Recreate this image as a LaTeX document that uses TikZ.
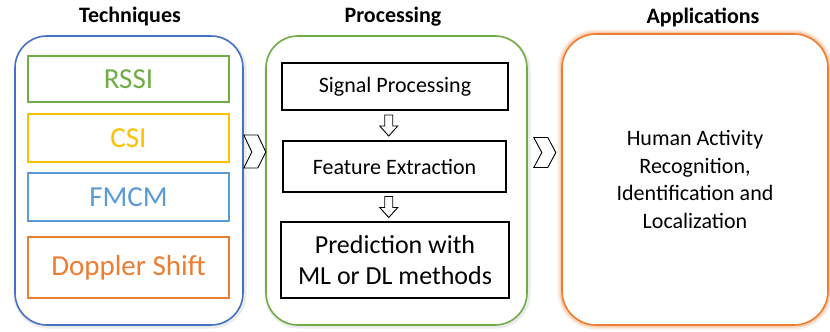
\documentclass[tikz,border=0pt]{standalone}
\usepackage{fontspec}
\setmainfont{Carlito}
\usepackage{tikz}
\usetikzlibrary{calc}
\definecolor{BlueFrame}{RGB}{68,114,196}
\definecolor{GreenFrame}{RGB}{112,173,71}
\definecolor{OrangeFrame}{RGB}{237,125,49}
\definecolor{GoldTech}{RGB}{255,192,0}
\definecolor{SkyTech}{RGB}{91,155,213}
\begin{document}
\begin{tikzpicture}[x=1bp,y=-1bp,
    title/.style={font=\fontsize{22bp}{26bp}\selectfont\bfseries},
    stage/.style={draw,line width=1.6bp,rounded corners=32bp,fill=white,
      minimum width=#1},
    techbox/.style={draw=#1,text=#1,line width=1.3bp,minimum width=201bp,
      font=\fontsize{29bp}{34bp}\selectfont,inner sep=0pt},
    procbox/.style={draw,line width=1.3bp,inner sep=0pt,align=center},
    chevron/.style={draw,fill=white,line width=0.9bp,line join=miter},
    hollow/.style={draw,fill=white,line width=0.9bp}]
  \useasboundingbox (0,0) rectangle (830,331);
  % titles
  \node[title] (ttech) at (130,17) {Techniques};
  \node[title] (tproc) at (393,17) {Processing};
  \node[title] (tapp) at (703,17) {Applications};
  % soft shadows and glow
  \draw[gray!40,line width=5bp,rounded corners=32bp,opacity=0.4] (16,38) rectangle (244,326);
  \draw[gray!40,line width=5bp,rounded corners=32bp,opacity=0.4] (267,38) rectangle (528,326);
  \draw[OrangeFrame!60,line width=9bp,rounded corners=34bp,opacity=0.25] (562,34) rectangle (828,325);
  \draw[OrangeFrame!70,line width=5bp,rounded corners=34bp,opacity=0.4] (562,34) rectangle (828,325);
  % stages
  \node[stage=228bp,draw=BlueFrame,minimum height=289bp] (tech) at (129,180.5) {};
  \node[stage=261bp,draw=GreenFrame,minimum height=289bp] (proc) at (396.5,180.5) {};
  \node[stage=266bp,draw=OrangeFrame,minimum height=291bp,align=center,
    rounded corners=34bp,font=\fontsize{22bp}{27.5bp}\selectfont] (app) at (695,179.5)
    {Human Activity\\Recognition,\\Identification and\\Localization};
  % techniques
  \node[techbox=GreenFrame,minimum height=46bp] (rssi) at (128.5,79) {RSSI};
  \node[techbox=GoldTech,minimum height=48bp] (csi) at (128.5,138) {CSI};
  \node[techbox=SkyTech,minimum height=48bp] (fmcm) at (128.5,197) {FMCM};
  \node[techbox=OrangeFrame,minimum height=61bp] (doppler) at (128.5,267.5) {Doppler Shift};
  % processing chain
  \node[procbox,minimum width=226bp,minimum height=47bp,
    font=\fontsize{22bp}{26bp}\selectfont] (signal) at (395,86.5) {Signal Processing};
  \node[procbox,minimum width=223bp,minimum height=51bp,
    font=\fontsize{22bp}{26bp}\selectfont] (feature) at (394.5,166.5) {Feature Extraction};
  \node[procbox,minimum width=228bp,minimum height=76bp,
    font=\fontsize{26bp}{31bp}\selectfont] (predict) at (395,260) {Prediction with\\ML or DL methods};
  % hollow down arrows
  \coordinate (a1) at ($(signal.south)!0.5!(feature.north)+(-6,-10.5)$);
  \coordinate (a2) at ($(feature.south)!0.5!(predict.north)+(-6,-10.5)$);
  \draw[hollow] (a1) ++(-4,0) -- ++(8,0) -- ++(0,11) -- ++(5,0) -- ++(-9,10)
    -- ++(-9,-10) -- ++(5,0) -- cycle;
  \draw[hollow] (a2) ++(-4,0) -- ++(8,0) -- ++(0,11) -- ++(5,0) -- ++(-9,10)
    -- ++(-9,-10) -- ++(5,0) -- cycle;
  % chevrons between stages
  \coordinate (c1) at ($(tech.east)+(0,-28.5)$);
  \coordinate (c2) at ($(proc.east)+(6,-28)$);
  \draw[chevron] (c1) ++(0,-17) -- ++(14,0) -- ++(8,17) -- ++(-8,16) -- ++(-14,0)
    -- ++(8,-16) -- cycle;
  \draw[chevron] (c2) ++(0,-15) -- ++(14,0) -- ++(8,15) -- ++(-8,15) -- ++(-14,0)
    -- ++(8,-15) -- cycle;
\end{tikzpicture}
\end{document}
